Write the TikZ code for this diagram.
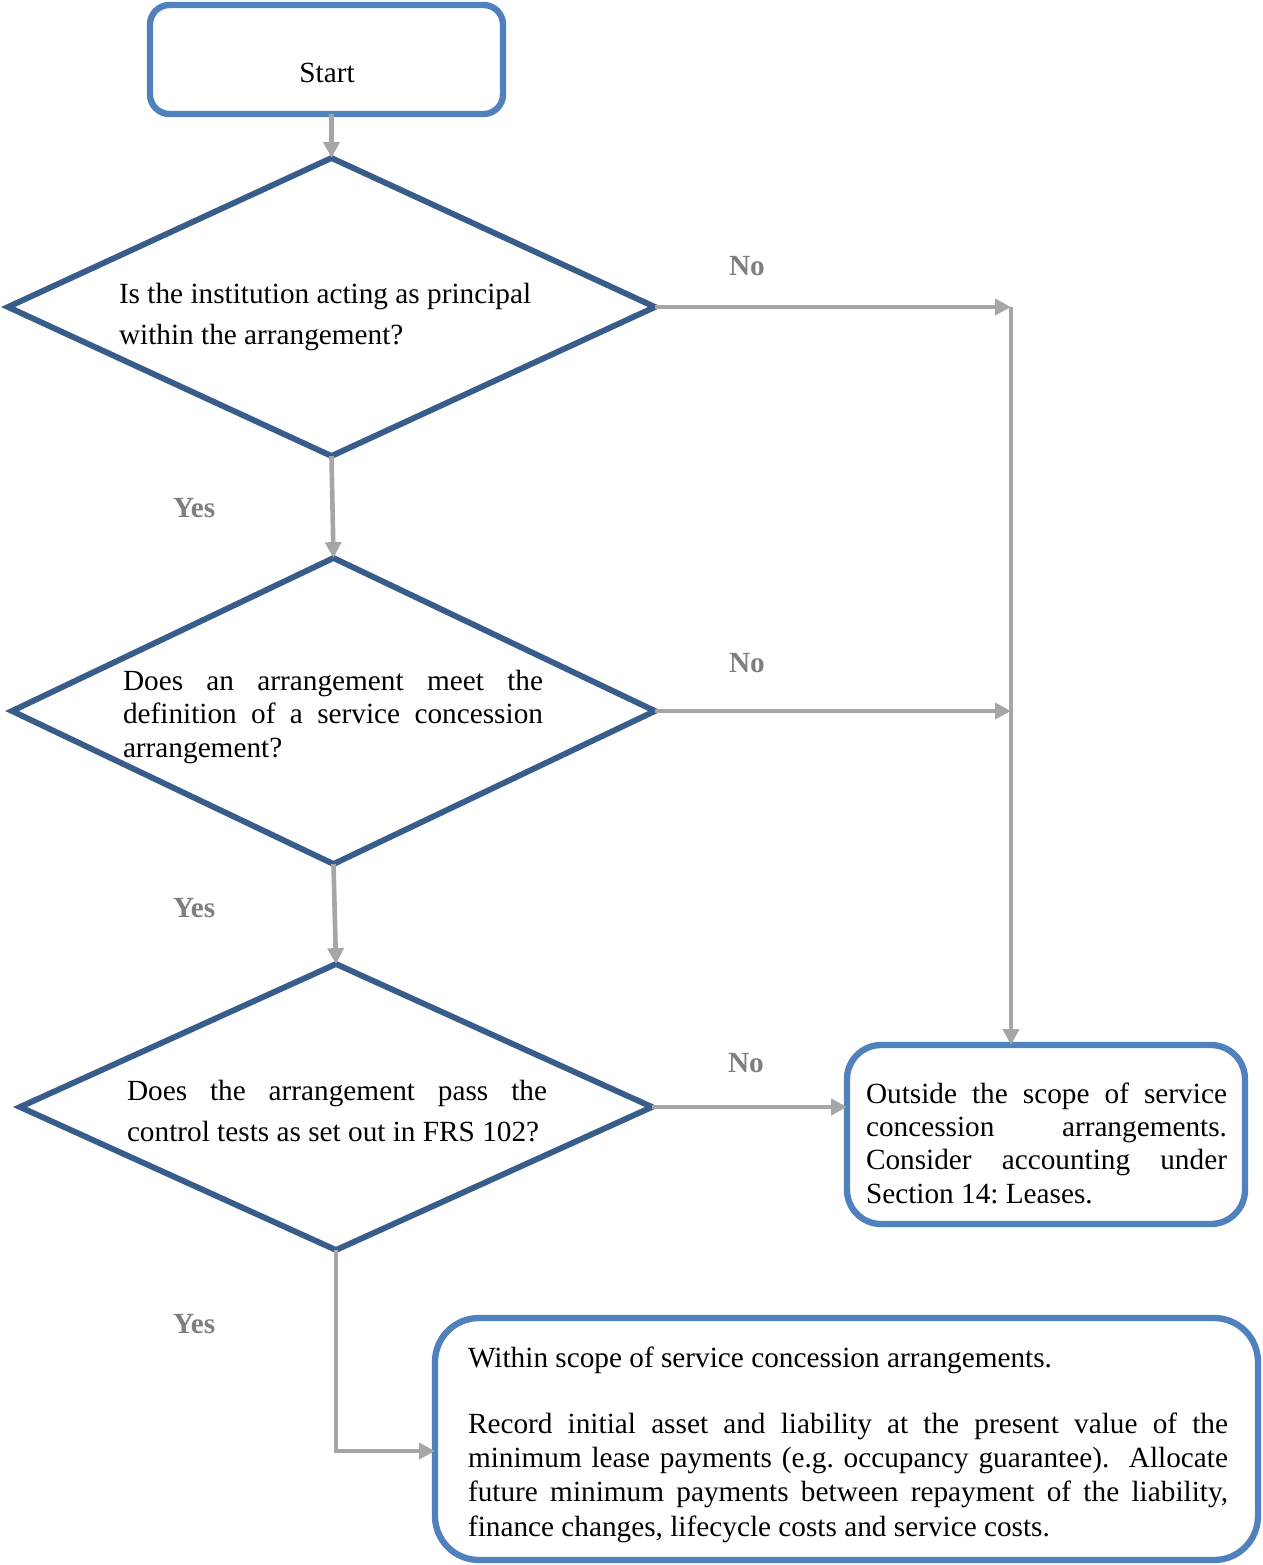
\documentclass[tikz,border=0pt]{standalone}
\usepackage{fontspec}
\setmainfont{Liberation Serif}
\usetikzlibrary{shapes.geometric,arrows.meta,calc}
\definecolor{boxblue}{HTML}{4F81BD}
\definecolor{diablue}{HTML}{385D8A}
\definecolor{arrgray}{HTML}{A6A6A6}
\definecolor{lblgray}{HTML}{7F7F7F}
\def\pxu{0.41pt}
\frenchspacing
\newcommand{\jl}[2]{\makebox[#1][s]{#2}}
\tikzset{
  rbox/.style={draw=boxblue, line width=2.6pt, rectangle, inner sep=0pt, outer sep=0pt},
  dia/.style={draw=diablue, line width=2.4pt, diamond, inner sep=0pt, outer sep=0pt},
  arr/.style={draw=arrgray, line width=1.9pt, -{Triangle[length=6.5pt,width=6.5pt]}},
  txt/.style={inner sep=0pt, outer sep=0pt, anchor=base west},
  lbl/.style={inner sep=0pt, outer sep=0pt, anchor=base west, text=lblgray, font=\fontsize{12}{13.8}\selectfont\bfseries},
}
\begin{document}
\begin{tikzpicture}[x=0.41pt, y=-0.41pt, font=\fontsize{12}{13.8}\selectfont]
\useasboundingbox (0,0) rectangle (1263,1565);
% boxes
\node[rbox, rounded corners=8pt, minimum width=353*\pxu, minimum height=109*\pxu] (start) at (326.5,59.5) {};
\node[txt, anchor=base] (tstart) at (327,82) {Start};
\node[dia, minimum width=647*\pxu, minimum height=298*\pxu] (d1) at (331.5,307) {};
\node[dia, minimum width=643*\pxu, minimum height=306*\pxu] (d2) at (333.5,711) {};
\node[dia, minimum width=632*\pxu, minimum height=286*\pxu] (d3) at (336,1107) {};
\node[rbox, rounded corners=14pt, minimum width=398*\pxu, minimum height=179*\pxu] (out) at (1046,1134.5) {};
\node[rbox, rounded corners=18pt, minimum width=823*\pxu, minimum height=242*\pxu] (within) at (846.5,1439) {};
% texts
\node[txt] (t1) at (119,303) {\vtop{\baselineskip=17.2pt
  \hbox{Is the institution acting as principal}
  \hbox{within the arrangement?}}};
\node[txt] (t2) at (123,690) {\vtop{\baselineskip=13.8pt
  \hbox{\jl{172.2pt}{Does an arrangement meet the}}
  \hbox{\jl{172.2pt}{definition of a service concession}}
  \hbox{arrangement?}}};
\node[txt] (t3) at (127,1100) {\vtop{\baselineskip=17.2pt
  \hbox{\jl{172.2pt}{Does the arrangement pass the}}
  \hbox{control tests as set out in FRS 102?}}};
\node[txt] (tout) at (866,1103) {\vtop{\baselineskip=13.7pt
  \hbox{\jl{148pt}{Outside the scope of service}}
  \hbox{\jl{148pt}{concession arrangements.}}
  \hbox{\jl{148pt}{Consider accounting under}}
  \hbox{Section 14: Leases.}}};
\node[txt] (twin1) at (468,1367) {Within scope of service concession arrangements.};
\node[txt] (twin2) at (468,1433) {\vtop{\baselineskip=14.1pt
  \hbox{\jl{311.6pt}{Record initial asset and liability at the present value of the}}
  \hbox{\jl{311.6pt}{minimum lease payments (e.g. occupancy guarantee).\ \ Allocate}}
  \hbox{\jl{311.6pt}{future minimum payments between repayment of the liability,}}
  \hbox{finance changes, lifecycle costs and service costs.}}};
% labels
\node[lbl] (no1) at (729,275) {No};
\node[lbl] (no2) at (729,672) {No};
\node[lbl] (no3) at (728,1072) {No};
\node[lbl] (yes1) at (173,517) {Yes};
\node[lbl] (yes2) at (173,917) {Yes};
\node[lbl] (yes3) at (173,1333) {Yes};
% connectors
\coordinate (j1) at (1011,307);
\draw[arr] (d1.north |- start.south) -- (d1.north);
\draw[arr] (d1.south) -- (d2.north);
\draw[arr] (d2.south) -- (d3.north);
\draw[arr] (d1.east) -- (j1);
\draw[arr] (j1) -- (j1 |- out.north);
\draw[arr] (d2.east) -- (d2.east -| j1);
\draw[arr] (d3.east) -- (d3.east -| out.west);
\draw[arr] (d3.south) |- ($(within.west)+(0,12)$);
\end{tikzpicture}
\end{document}
